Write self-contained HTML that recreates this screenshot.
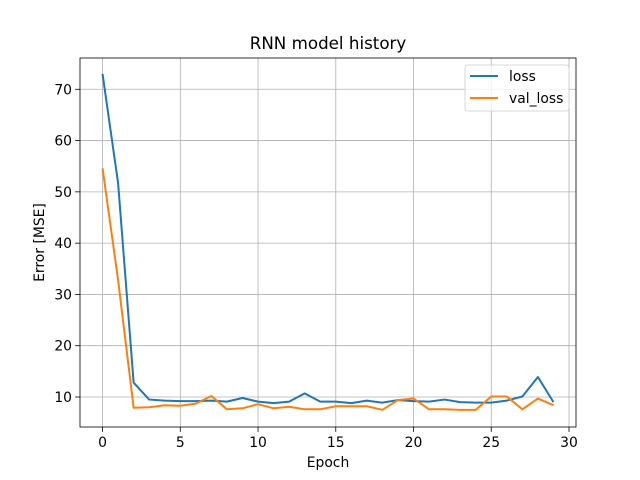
<!DOCTYPE html>
<html><head><meta charset="utf-8"><style>body{margin:0;background:#fff}svg{display:block;font-family:"DejaVu Sans","Liberation Sans",sans-serif}</style></head>
<body>
<svg id="c" width="640" height="480"></svg>
<script>
const epochs=[...Array(30).keys()];
const loss=[73,51.7,12.8,9.5,9.3,9.2,9.2,9.3,9.1,9.8,9.1,8.8,9.1,10.7,9.1,9.1,8.8,9.3,8.9,9.4,9.2,9.1,9.5,9.0,8.9,8.9,9.3,10.1,13.9,9.0];
const valLoss=[54.6,32.8,7.9,8.0,8.4,8.3,8.7,10.2,7.6,7.8,8.6,7.8,8.1,7.6,7.6,8.2,8.2,8.2,7.5,9.4,9.7,7.6,7.6,7.5,7.5,10.1,10.1,7.6,9.7,8.4];
const xTicks=[0,5,10,15,20,25,30];
const yTicks=[10,20,30,40,50,60,70];
const L=80,R=576,T=58,B=427,x0=-1.45,x1=30.45,y0=4.15,y1=76.1;
const sx=v=>L+(v-x0)/(x1-x0)*(R-L), sy=v=>B-(v-y0)/(y1-y0)*(B-T);
const s=document.getElementById('c');const NS='http://www.w3.org/2000/svg';
function mk(t,a,txt){const e=document.createElementNS(NS,t);for(const k in a)e.setAttribute(k,a[k]);if(txt!=null)e.textContent=txt;s.appendChild(e);return e;}
xTicks.forEach(v=>{const x=sx(v);
const g=mk('line',{x1:x,x2:x,y1:T,y2:B,stroke:'#b0b0b0','stroke-width':0.8});


mk('line',{x1:x,x2:x,y1:B,y2:B+4.9,stroke:'#000','stroke-width':0.8});
const t=mk('text',{x:x,y:B+20,'text-anchor':'middle','font-size':13.9},v);

});
yTicks.forEach(v=>{const y=sy(v);
const g=mk('line',{x1:L,x2:R,y1:y,y2:y,stroke:'#b0b0b0','stroke-width':0.8});


mk('line',{x1:L-4.9,x2:L,y1:y,y2:y,stroke:'#000','stroke-width':0.8});
const t=mk('text',{x:L-8,y:y+5,'text-anchor':'end','font-size':13.9},v);

});
function line(d,c,n){const p=mk('polyline',{points:d.map((v,i)=>sx(epochs[i])+','+sy(v)).join(' '),fill:'none',stroke:c,'stroke-width':2,'stroke-linejoin':'round'});

}
line(loss,'#1f77b4','loss-line');line(valLoss,'#ff7f0e','val-loss-line');
const fr=mk('rect',{x:L,y:T,width:R-L,height:B-T,fill:'none',stroke:'#000','stroke-width':0.8});


const ti=mk('text',{x:(L+R)/2,y:T-9,'text-anchor':'middle','font-size':16.7},'RNN model history');


const xl=mk('text',{x:(L+R)/2,y:467,'text-anchor':'middle','font-size':13.9},'Epoch');


const yl=mk('text',{x:0,y:0,'text-anchor':'middle','font-size':13.9,transform:'translate(44,'+(T+B)/2+') rotate(-90)'},'Error [MSE]');


const lg=mk('rect',{x:465,y:65,width:104,height:46,rx:3,fill:'#fff','fill-opacity':0.8,stroke:'#ccc','stroke-width':0.8});


[['loss','#1f77b4',76],['val_loss','#ff7f0e',98]].forEach(([n,c,y])=>{
mk('line',{x1:470,x2:498,y1:y,y2:y,stroke:c,'stroke-width':2});
const t=mk('text',{x:509,y:y+5,'font-size':13.9},n);

});
</script>
</body></html>
